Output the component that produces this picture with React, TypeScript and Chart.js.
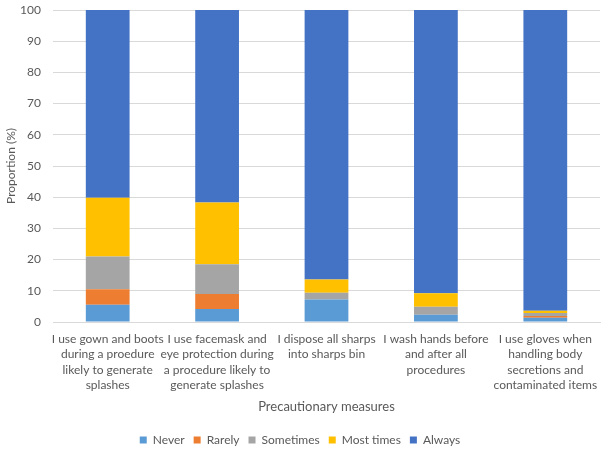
import React, { useEffect, useRef } from "react";
import { Chart, registerables } from "chart.js";
Chart.register(...registerables);

const categories: string[][] = [
  ["I use gown and boots", "during a proedure", "likely to generate", "splashes"],
  ["I use facemask and", "eye protection during", "a procedure likely to", "generate splashes"],
  ["I dispose all sharps", "into sharps bin"],
  ["I wash hands before", "and after all", "procedures"],
  ["I use gloves when", "handling body", "secretions and", "contaminated items"],
];
const never = [5.5, 4.2, 7.2, 2.3, 1.4];
const rarely = [5.0, 4.8, 0, 0, 0.5];
const sometimes = [10.5, 9.5, 2.2, 2.6, 1.0];
const mostTimes = [18.8, 19.8, 4.2, 4.3, 0.7];
const always = [60.2, 61.7, 86.4, 90.8, 96.4];
const yTicks = [0, 10, 20, 30, 40, 50, 60, 70, 80, 90, 100];

const FONT = "Lato, 'Liberation Sans', sans-serif";

export default function App() {
  const ref = useRef<HTMLCanvasElement>(null);
  useEffect(() => {
    document.body.style.margin = "0";
    const ctx = ref.current!;
    const mk = (label: string, data: number[], color: string) => ({
      label,
      data,
      backgroundColor: color,
      borderWidth: 0,
      barPercentage: 0.8,
      categoryPercentage: 0.5,
    });
    const chart = new Chart(ctx, {
      type: "bar",
      data: {
        labels: categories,
        datasets: [
          mk("Never", never, "#5B9BD5"),
          mk("Rarely", rarely, "#ED7D31"),
          mk("Sometimes", sometimes, "#A5A5A5"),
          mk("Most times", mostTimes, "#FFC000"),
          mk("Always", always, "#4472C4"),
        ],
      },
      options: {
        responsive: false,
        animation: false,
        layout: { padding: { left: 0, right: 10, top: 10, bottom: 0 } },
        plugins: {
          legend: {
            position: "bottom",
            labels: {
              boxWidth: 7,
              boxHeight: 7,
              color: "#595959",
              font: { family: FONT, size: 12 },
              padding: 9,
            },
          },
          tooltip: { enabled: false },
        },
        scales: {
          x: {
            stacked: true,
            grid: {
              display: true,
              drawOnChartArea: false,
              tickLength: 9,
              tickColor: "transparent",
            },
            border: { color: "#d9d9d9" },
            afterFit: (s: any) => {
              s.height = 103;
            },
            ticks: {
              color: "#595959",
              font: { family: FONT, size: 12, lineHeight: 1.3 },
              maxRotation: 0,
              autoSkip: false,
              padding: 0,
            },
            title: {
              display: true,
              text: "Precautionary measures",
              color: "#595959",
              font: { family: FONT, size: 13 },
              padding: { top: 4, bottom: 10 },
            },
          },
          y: {
            stacked: true,
            min: 0,
            max: 100,
            afterBuildTicks: (axis: any) => {
              axis.ticks = yTicks.map((v) => ({ value: v }));
            },
            afterFit: (s: any) => {
              s.width = 53;
            },
            grid: {
              color: "#d9d9d9",
              drawTicks: true,
              tickLength: 12,
              tickColor: "transparent",
            },
            border: { display: false },
            ticks: {
              color: "#595959",
              font: { family: FONT, size: 12 },
              padding: 0,
            },
            title: {
              display: true,
              text: "Proportion (%)",
              color: "#595959",
              font: { family: FONT, size: 12 },
              padding: { top: 4, bottom: 0 },
            },
          },
        },
      },
    });
    return () => chart.destroy();
  }, []);
  return <canvas ref={ref} width={610} height={456} style={{ display: "block" }} />;
}
